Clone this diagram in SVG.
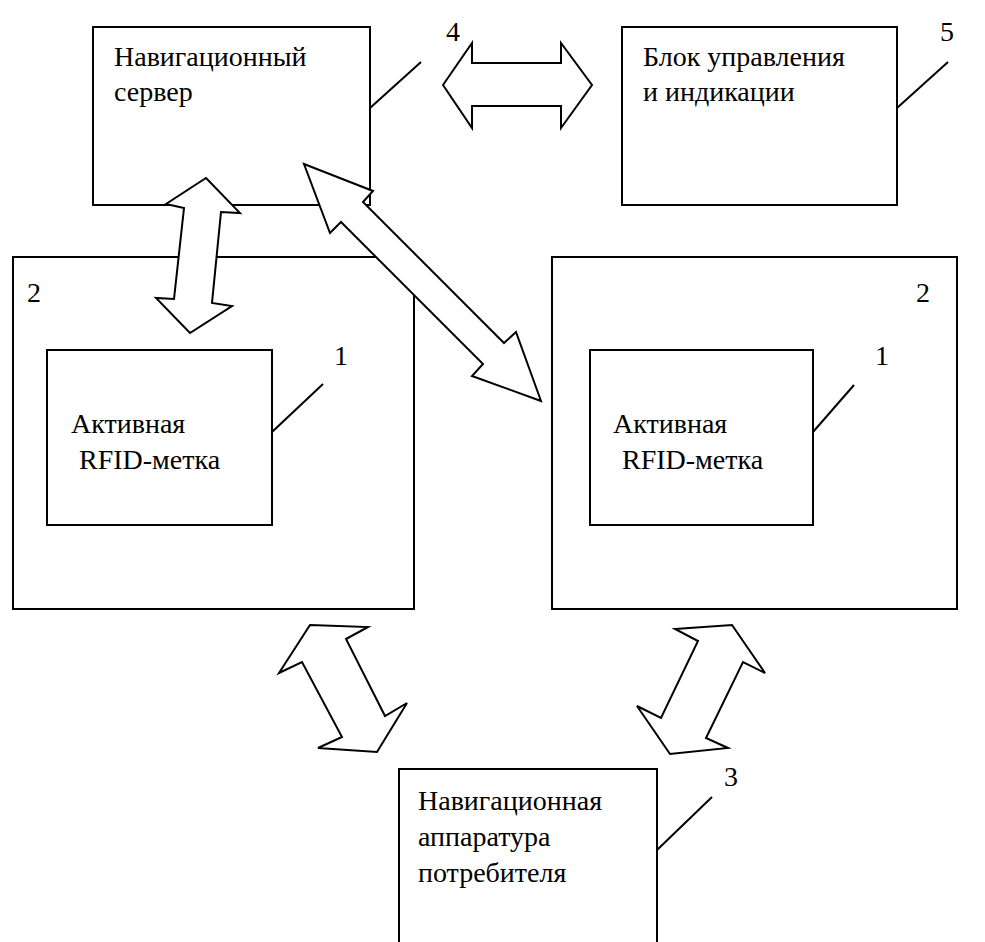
<svg xmlns="http://www.w3.org/2000/svg" width="985" height="942" viewBox="0 0 985 942">
<style>
.box{fill:none;stroke:#000;stroke-width:2}
.ln{stroke:#000;stroke-width:2;fill:none}
.ar{fill:#fff;stroke:#000;stroke-width:2;stroke-linejoin:miter}
.t{font-family:'Liberation Serif','DejaVu Serif',serif;font-size:28px;fill:#000}
</style>
<rect width="985" height="942" fill="#fff"/>
<g id="server">
<rect class="box" x="93" y="27" width="277" height="178"/>
<text class="t" x="114" y="66">Навигационный</text>
<text class="t" x="114" y="101">сервер</text>
<line class="ln" x1="370" y1="108" x2="421" y2="62"/>
<text class="t" x="446" y="41">4</text>
</g>
<g id="control">
<rect class="box" x="622" y="27" width="275" height="178"/>
<text class="t" x="643" y="66">Блок управления</text>
<text class="t" x="643" y="101">и индикации</text>
<line class="ln" x1="897" y1="108" x2="948" y2="62"/>
<text class="t" x="940" y="41">5</text>
</g>
<g id="zone-left">
<rect class="box" x="13" y="257" width="401" height="352"/>
<text class="t" x="27" y="302">2</text>
</g>
<g id="tag-left">
<rect class="box" x="47" y="350" width="225" height="175"/>
<text class="t" x="71" y="433">Активная</text>
<text class="t" x="79" y="469">RFID-метка</text>
<line class="ln" x1="272" y1="432" x2="323" y2="384"/>
<text class="t" x="334" y="365">1</text>
</g>
<g id="zone-right">
<rect class="box" x="552" y="257" width="405" height="352"/>
<text class="t" x="916" y="302">2</text>
</g>
<g id="tag-right">
<rect class="box" x="590" y="350" width="223" height="175"/>
<text class="t" x="613" y="433">Активная</text>
<text class="t" x="622" y="469">RFID-метка</text>
<line class="ln" x1="813" y1="432" x2="854" y2="385"/>
<text class="t" x="875" y="365">1</text>
</g>
<g id="user">
<polyline class="ln" points="399,942 399,769 657,769 657,942"/>
<text class="t" x="418" y="810">Навигационная</text>
<text class="t" x="418" y="846">аппаратура</text>
<text class="t" x="418" y="882">потребителя</text>
<line class="ln" x1="657" y1="850" x2="712" y2="797"/>
<text class="t" x="724" y="786">3</text>
</g>
<g id="connectors">
<polygon class="ar" points="443,85 472,43 472,63 561,63 561,43 592,85 561,128 561,106 472,106 472,128"/>
<polygon class="ar" points="206,178 240,213 221,212 212,303 232,306 190,333 156,298 174,299 184,208 166,204"/>
<polygon class="ar" points="304,164 373,191 363,202 504,343 516,332 541,401 472,376 483,364 341,222 330,233"/>
<polygon class="ar" points="310,625 368,627 346,639 385,716 407,703 377,752 318,748 342,737 302,662 279,673"/>
<polygon class="ar" points="675,629 732,625 765,673 743,662 706,738 728,748 670,754 637,706 661,718 698,641"/>
</g>
</svg>
